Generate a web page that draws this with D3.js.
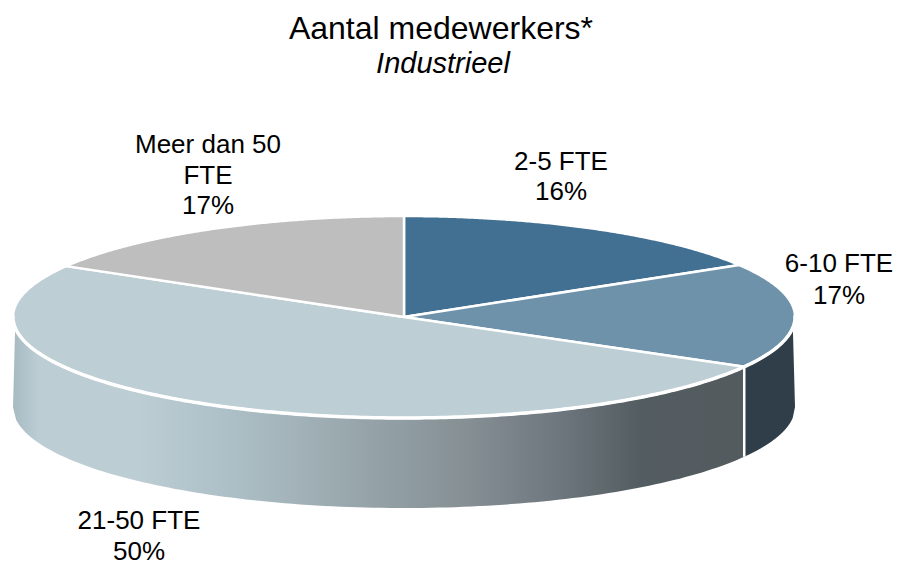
<!DOCTYPE html>
<html><head><meta charset="utf-8">
<script src="https://cdnjs.cloudflare.com/ajax/libs/d3/7.8.5/d3.min.js"></script>
<style>html,body{margin:0;padding:0;background:#fff}svg{display:block}text{font-family:"Liberation Sans",Arial,sans-serif;fill:#000}</style>
</head><body><div id="c"></div>
<script>
const categories = ["2-5 FTE","6-10 FTE","21-50 FTE","Meer dan 50 FTE"];
const values = [16.4,16.8,50.2,16.6];
const topColors = ["#417093","#6e92a9","#bdced5","#bebebe"];
const wallFills = ["#2a3b4a","#2f3e48","url(#wallGrad)","#888888"];
const labelLines = [["2-5 FTE","16%"],["6-10 FTE","17%"],["21-50 FTE","50%"],["Meer dan 50","FTE","17%"]];

const W=900,H=561,cx=404,cy=317,rx=391,ry=101,depth=90;
const labelPos=[[561,170,30],[839,272,32],[139,529,31],[208,153,30.5]];
const svg=d3.select("#c").append("svg").attr("width",W).attr("height",H);

const defs=svg.append("defs");
const grad=defs.append("linearGradient").attr("id","wallGrad").attr("gradientUnits","userSpaceOnUse")
  .attr("x1",13).attr("x2",745).attr("y1",0).attr("y2",0);
[[0,"#a7bac2"],[0.035,"#bccdd4"],[0.17,"#bccdd4"],[0.3,"#adbfc6"],[0.47,"#97a6ab"],[0.62,"#858f94"],[0.75,"#6c767c"],[0.86,"#535c60"],[1,"#535b5f"]]
 .forEach(([o,c])=>grad.append("stop").attr("offset",o).attr("stop-color",c));

const pie=d3.pie().sort(null).value(d=>d)(values);
const px=a=>cx+rx*Math.sin(a), py=a=>cy-ry*Math.cos(a);
const aMin=96*Math.PI/180, aMax=264*Math.PI/180;

const line=d3.line();
pie.forEach((p,i)=>{
  const a0=Math.max(p.startAngle,aMin), a1=Math.min(p.endAngle,aMax);
  if(a1<=a0) return;
  const as=d3.range(0,121).map(k=>a0+(a1-a0)*k/120);
  const topEdge=as.map(a=>[px(a),py(a)]);
  const low=a=>{const b=a<=aMin?Math.PI/2:(a>=aMax?3*Math.PI/2:a);return [px(b),cy+depth-ry*Math.cos(b)];};
  const botEdge=as.slice().reverse().map(low);
  svg.append("path").attr("d",line(topEdge.concat(botEdge))+"Z").attr("fill",wallFills[i]);
});
pie.forEach(p=>{
  const a=p.endAngle;
  if(a>aMin&&a<aMax){
    svg.append("line").attr("x1",px(a)).attr("x2",px(a)).attr("y1",py(a)).attr("y2",py(a)+depth)
      .attr("stroke","#fff").attr("stroke-width",2.5);
  }
});
const steps=d3.range(0,181);
pie.forEach((p,i)=>{
  const pts=steps.map(k=>{const a=p.startAngle+(p.endAngle-p.startAngle)*k/180;return [px(a),py(a)];});
  svg.append("path").attr("d",line([[cx,cy]].concat(pts))+"Z")
    .attr("fill",topColors[i]).attr("stroke","#fff").attr("stroke-width",2.5).attr("stroke-linejoin","round");
});
// thicker white rim along the front edge
const rim=d3.range(0,241).map(k=>{const a=aMin-0.12+(aMax-aMin+0.24)*k/240;return [px(a),py(a)];});
svg.append("path").attr("d",line(rim)).attr("fill","none").attr("stroke","#fff").attr("stroke-width",3.5);
labelLines.forEach((ls,i)=>{
  const [x,y,dy]=labelPos[i];
  ls.forEach((t,j)=>svg.append("text").attr("x",x).attr("y",y+j*dy).attr("text-anchor","middle")
    .attr("font-size",26).text(t));
});
svg.append("text").attr("x",441).attr("y",39).attr("text-anchor","middle").attr("font-size",32).text("Aantal medewerkers*");
svg.append("text").attr("x",443).attr("y",73).attr("text-anchor","middle").attr("font-size",29).attr("font-style","italic").text("Industrieel");
</script></body></html>
